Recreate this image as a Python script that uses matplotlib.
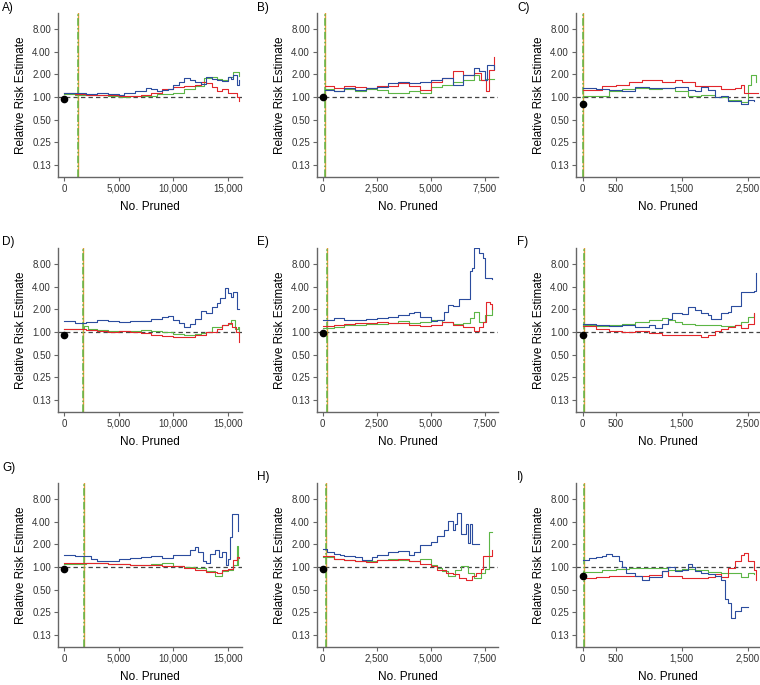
import matplotlib
matplotlib.use("Agg")
import matplotlib.pyplot as plt
from matplotlib.ticker import FixedLocator, FuncFormatter

plt.rcParams['font.family'] = ['Liberation Sans', 'DejaVu Sans']

# ---- data (x = No. pruned, y = relative risk) ----
a_blue_x = [0, 1000, 2000, 3000, 4000, 5000, 5500, 6500, 7500, 8000, 8500, 9000, 9500, 10000,
            10500, 11000, 11500, 12000, 12500, 13000, 13500, 14000, 14500, 15000, 15300, 15500, 15800, 16000]
a_blue_y = [1.12, 1.13, 1.10, 1.12, 1.10, 1.05, 1.12, 1.22, 1.34, 1.28, 1.22, 1.26, 1.30, 1.45,
            1.60, 1.77, 1.70, 1.60, 1.50, 1.84, 1.75, 1.70, 1.62, 1.84, 1.75, 1.98, 1.45, 1.70]
a_red_x = [0, 1000, 2000, 3000, 4000, 5000, 6000, 7000, 8000, 9000, 10000, 11000, 12000, 12500,
           13000, 13500, 14000, 14500, 15000, 15500, 15800, 16000]
a_red_y = [1.12, 1.10, 1.08, 1.07, 1.05, 1.02, 1.04, 1.07, 1.15, 1.28, 1.36, 1.39, 1.45, 1.60,
           1.53, 1.36, 1.19, 1.28, 1.13, 1.13, 1.00, 0.88]
a_green_x = [0, 1000, 2000, 3000, 4000, 5000, 6000, 7000, 8500, 10000, 11000, 12000, 12800, 13500,
             14000, 14500, 15000, 15500, 16000]
a_green_y = [1.10, 1.08, 1.06, 1.05, 1.03, 1.00, 1.02, 1.04, 1.10, 1.15, 1.28, 1.39, 1.79, 1.84,
             1.75, 1.70, 1.85, 2.13, 1.88]

b_blue_x = [100, 500, 1000, 1500, 2000, 2500, 3000, 3500, 4000, 4500, 5000, 5500, 6000, 6500,
            7000, 7200, 7500, 7600, 7900]
b_blue_y = [1.25, 1.19, 1.32, 1.25, 1.32, 1.36, 1.53, 1.60, 1.53, 1.60, 1.70, 1.79, 1.45, 1.98,
            2.43, 2.20, 1.70, 2.69, 2.40]
b_red_x = [100, 500, 1000, 1500, 2000, 2500, 3000, 3500, 4000, 4500, 5000, 5500, 6000, 6500,
           7000, 7300, 7550, 7700, 7900]
b_red_y = [1.40, 1.32, 1.41, 1.36, 1.32, 1.39, 1.41, 1.53, 1.41, 1.25, 1.60, 1.79, 2.20, 1.98,
           2.08, 1.70, 1.19, 2.30, 3.47]
b_green_x = [100, 500, 1000, 1500, 2000, 2500, 3000, 3500, 4000, 4500, 5000, 5500, 6000, 6500,
             7000, 7200, 7500, 7900]
b_green_y = [1.28, 1.19, 1.28, 1.19, 1.28, 1.25, 1.13, 1.15, 1.22, 1.13, 1.36, 1.45, 1.60, 1.70,
             1.98, 1.70, 1.75, 1.75]

c_blue_x = [10, 200, 400, 600, 800, 1000, 1200, 1400, 1600, 1700, 1800, 1900, 2000, 2100, 2200,
            2400, 2500, 2600]
c_blue_y = [1.32, 1.28, 1.25, 1.19, 1.36, 1.32, 1.34, 1.36, 1.25, 1.19, 1.36, 1.25, 1.00, 1.02, 0.88,
            0.82, 0.92, 0.88]
c_red_x = [10, 200, 300, 500, 700, 900, 1000, 1200, 1400, 1500, 1700, 1900, 2100, 2300, 2400,
           2450, 2650]
c_red_y = [1.23, 1.25, 1.39, 1.45, 1.60, 1.67, 1.70, 1.60, 1.67, 1.57, 1.41, 1.39, 1.28, 1.32, 1.45,
           1.15, 1.13]
c_green_x = [10, 200, 400, 600, 800, 1000, 1200, 1400, 1600, 1800, 2000, 2200, 2400, 2500, 2550, 2620]
c_green_y = [1.02, 1.04, 1.19, 1.28, 1.32, 1.28, 1.32, 1.19, 1.02, 1.07, 1.00, 0.92, 0.86, 1.45, 1.96, 1.61]

d_blue_x = [0, 1000, 2000, 3000, 4000, 5000, 6000, 7000, 8000, 9000, 9500, 10000, 10500, 11000,
            11500, 12000, 12500, 13000, 13500, 14000, 14300, 14700, 15000, 15300, 15500, 15800, 16000]
d_blue_y = [1.39, 1.34, 1.36, 1.43, 1.39, 1.36, 1.39, 1.40, 1.48, 1.59, 1.64, 1.43, 1.34, 1.17,
            1.30, 1.51, 1.90, 1.82, 2.17, 2.41, 2.81, 3.84, 3.28, 2.96, 3.46, 2.02, 2.02]
d_red_x = [0, 2000, 3000, 4000, 5000, 6000, 7000, 8000, 9000, 10000, 11000, 12000, 13000, 14000,
           14500, 15000, 15400, 15700, 16000]
d_red_y = [1.11, 1.08, 1.02, 1.00, 1.02, 1.00, 0.98, 0.92, 0.88, 0.86, 0.85, 0.90, 1.00, 1.11,
           1.23, 1.34, 1.17, 1.00, 0.73]
d_green_x = [0, 1500, 1800, 2200, 3000, 4000, 5000, 6000, 7000, 8000, 9000, 10000, 11000, 12000,
             12500, 13000, 13500, 14500, 15000, 15300, 15600, 15900, 16000]
d_green_y = [1.10, 1.11, 1.20, 1.11, 1.05, 1.02, 1.02, 1.02, 1.05, 1.02, 1.00, 0.95, 0.92, 0.94,
             0.98, 1.00, 1.17, 1.23, 1.29, 1.44, 1.11, 1.17, 1.00]

e_blue_x = [0, 500, 1000, 1500, 2000, 2500, 3000, 3500, 4000, 4200, 4500, 5000, 5300, 5600, 5800,
            6000, 6300, 6600, 6800, 6900, 7000, 7200, 7400, 7500, 7800]
e_blue_y = [1.47, 1.54, 1.47, 1.45, 1.49, 1.52, 1.59, 1.68, 1.77, 1.86, 1.59, 1.41, 1.45, 1.86, 2.27,
            2.22, 2.75, 2.80, 6.50, 7.10, 13.0, 11.3, 9.7, 5.2, 5.1]
e_red_x = [0, 500, 1000, 1500, 2000, 2500, 3000, 3500, 4000, 4500, 5000, 5500, 6000, 6500, 7000,
           7200, 7400, 7550, 7750, 7800]
e_red_y = [1.20, 1.23, 1.30, 1.32, 1.34, 1.36, 1.34, 1.32, 1.23, 1.20, 1.26, 1.36, 1.23, 1.17, 1.02,
           1.17, 1.36, 2.54, 2.40, 2.04]
e_green_x = [0, 500, 1000, 1500, 2000, 2500, 3000, 3500, 4000, 4500, 5000, 5500, 6000, 6500, 6800,
             7000, 7200, 7500, 7800]
e_green_y = [1.15, 1.17, 1.23, 1.25, 1.27, 1.29, 1.34, 1.39, 1.34, 1.36, 1.43, 1.36, 1.28, 1.34, 1.54,
             1.86, 1.36, 1.68, 2.17]

f_blue_x = [10, 200, 400, 600, 800, 1000, 1100, 1200, 1300, 1350, 1500, 1600, 1700, 1800, 1900,
            1950, 2100, 2200, 2250, 2400, 2600, 2620]
f_blue_y = [1.29, 1.23, 1.21, 1.23, 1.17, 1.26, 1.14, 1.29, 1.51, 1.77, 1.72, 2.17, 1.95, 1.77, 1.68,
            1.51, 1.77, 1.86, 2.24, 3.46, 3.50, 6.10]
f_red_x = [10, 200, 400, 600, 800, 1000, 1200, 1400, 1600, 1800, 1900, 2000, 2100, 2200, 2300,
           2400, 2500, 2600]
f_red_y = [1.20, 1.11, 1.02, 1.00, 1.02, 0.97, 0.92, 0.90, 0.92, 0.86, 0.90, 1.02, 1.09, 1.17, 1.23,
           1.14, 1.29, 1.82]
f_green_x = [10, 200, 400, 600, 800, 1000, 1200, 1300, 1400, 1500, 1700, 1900, 2100, 2300, 2400,
             2500, 2600]
f_green_y = [1.25, 1.21, 1.23, 1.29, 1.36, 1.44, 1.54, 1.44, 1.36, 1.29, 1.26, 1.23, 1.21, 1.23, 1.36,
             1.59, 1.72]

g_blue_x = [0, 1000, 2000, 2500, 3000, 4000, 5000, 6000, 7000, 8000, 9000, 10000, 11000, 11500,
            12000, 12300, 12700, 13000, 13400, 13800, 14200, 14500, 14800, 15000, 15200, 15400, 15800, 15900]
g_blue_y = [1.43, 1.42, 1.40, 1.28, 1.21, 1.21, 1.28, 1.32, 1.36, 1.39, 1.34, 1.46, 1.46, 1.70,
            1.84, 1.60, 1.19, 1.13, 1.50, 1.70, 1.38, 1.60, 1.05, 1.29, 2.50, 5.05, 5.05, 2.98]
g_red_x = [0, 2000, 4000, 6000, 8000, 9000, 10000, 11000, 12000, 13000, 14000, 14500, 15000, 15500,
           15800, 16000]
g_red_y = [1.13, 1.13, 1.10, 1.07, 1.08, 1.04, 1.02, 0.97, 0.90, 0.86, 0.83, 0.90, 0.94, 1.25,
           1.36, 1.32]
g_green_x = [0, 2000, 4000, 6000, 8000, 9000, 10000, 11000, 12000, 13000, 13800, 14500, 15000, 15500,
             15800, 15900]
g_green_y = [1.10, 1.13, 1.09, 1.07, 1.10, 1.13, 1.02, 0.99, 0.97, 0.88, 0.77, 0.88, 0.90, 1.07,
             1.88, 1.07]

h_blue_x = [0, 200, 500, 800, 1000, 1500, 1800, 2000, 2300, 2500, 3000, 3500, 4000, 4200, 4500,
            5000, 5300, 5600, 5800, 6000, 6100, 6200, 6400, 6600, 6700, 6800, 6900, 7200]
h_blue_y = [1.73, 1.61, 1.50, 1.46, 1.39, 1.36, 1.23, 1.26, 1.36, 1.46, 1.61, 1.66, 1.46, 1.61, 1.98,
            2.19, 2.56, 3.13, 4.05, 3.13, 3.70, 5.22, 2.80, 3.80, 2.08, 3.80, 2.04, 2.04]
h_red_x = [0, 500, 1000, 1500, 2000, 2500, 3000, 3500, 4000, 4500, 5000, 5300, 5700, 6000, 6300,
           6600, 6900, 7100, 7300, 7400, 7700, 7800]
h_red_y = [1.39, 1.28, 1.23, 1.21, 1.18, 1.23, 1.26, 1.28, 1.21, 1.10, 1.02, 0.92, 0.83, 0.80, 0.71,
           0.68, 0.77, 0.83, 0.95, 1.39, 1.39, 1.70]
h_green_x = [0, 500, 1000, 1500, 2000, 2500, 3000, 3500, 4000, 4500, 5000, 5300, 5500, 5800, 6100,
             6400, 6700, 7000, 7300, 7500, 7700, 7800]
h_green_y = [1.36, 1.28, 1.23, 1.20, 1.21, 1.26, 1.28, 1.26, 1.20, 1.28, 1.07, 0.97, 0.88, 0.75, 0.92,
             1.02, 0.83, 0.71, 0.83, 0.95, 2.97, 2.97]

i_blue_x = [10, 100, 200, 300, 350, 450, 550, 600, 650, 800, 900, 1000, 1200, 1300, 1400, 1500,
            1600, 1650, 1700, 1800, 1900, 2000, 2100, 2150, 2200, 2250, 2300, 2400, 2500]
i_blue_y = [1.25, 1.32, 1.36, 1.39, 1.50, 1.41, 1.19, 1.00, 0.83, 0.75, 0.67, 0.74, 0.88, 1.00, 0.88,
            0.92, 1.11, 1.00, 0.88, 0.83, 0.82, 0.75, 0.68, 0.37, 0.33, 0.21, 0.26, 0.29, 0.29]
i_red_x = [10, 200, 400, 600, 800, 1000, 1200, 1300, 1500, 1700, 1900, 2000, 2100, 2200, 2300,
           2400, 2450, 2500, 2600, 2620]
i_red_y = [0.71, 0.74, 0.76, 0.77, 0.76, 0.79, 0.88, 0.77, 0.71, 0.72, 0.74, 0.81, 0.74, 0.97, 1.19,
           1.46, 1.53, 1.19, 0.92, 0.68]
i_green_x = [10, 300, 500, 700, 1000, 1300, 1500, 1700, 1900, 2100, 2200, 2400, 2500, 2600]
i_green_y = [0.85, 0.90, 0.94, 0.97, 0.97, 0.92, 0.94, 0.90, 0.85, 0.83, 0.83, 0.74, 0.83, 0.82]

panel_labels = ['A)', 'B)', 'C)', 'D)', 'E)', 'F)', 'G)', 'H)', 'I)']
cutoffs = [1250, 100, 10, 1750, 180, 20, 1850, 150, 20]
start_rr = [0.93, 1.00, 0.80, 0.92, 0.96, 0.90, 0.93, 0.93, 0.77]
xticks_big = [0, 5000, 10000, 15000]
xticks_mid = [0, 2500, 5000, 7500]
xticks_small = [0, 500, 1500, 2500]
yticks = [0.125, 0.25, 0.5, 1, 2, 4, 8]
ytick_labels = ['0.13', '0.25', '0.50', '1.00', '2.00', '4.00', '8.00']

series = [
    (a_blue_x, a_blue_y, a_red_x, a_red_y, a_green_x, a_green_y),
    (b_blue_x, b_blue_y, b_red_x, b_red_y, b_green_x, b_green_y),
    (c_blue_x, c_blue_y, c_red_x, c_red_y, c_green_x, c_green_y),
    (d_blue_x, d_blue_y, d_red_x, d_red_y, d_green_x, d_green_y),
    (e_blue_x, e_blue_y, e_red_x, e_red_y, e_green_x, e_green_y),
    (f_blue_x, f_blue_y, f_red_x, f_red_y, f_green_x, f_green_y),
    (g_blue_x, g_blue_y, g_red_x, g_red_y, g_green_x, g_green_y),
    (h_blue_x, h_blue_y, h_red_x, h_red_y, h_green_x, h_green_y),
    (i_blue_x, i_blue_y, i_red_x, i_red_y, i_green_x, i_green_y),
]

BLUE = '#2b4c9e'
RED = '#e2262b'
GREEN = '#5cb646'
W, H = 760, 685

fig = plt.figure(figsize=(7.6, 6.85), dpi=100)

# column: (left px, right px, xlim, xticks); row: (top px, bottom px)
cols = [(58, 242, (-549, 16285), xticks_big),
        (317, 498, (-263, 8100), xticks_mid),
        (576, 760, (-100, 2686), xticks_small)]
rows = [(13, 177), (248, 412), (483, 647)]
label_pos = [(2, 8), (257, 8), (517, 8), (2, 242), (257, 242), (517, 242),
             (2, 468), (257, 477), (517, 477)]

for k in range(9):
    r, c = divmod(k, 3)
    left, right, xlim, xt = cols[c]
    top, bot = rows[r]
    ax = fig.add_axes([left / W, (H - bot) / H, (right - left) / W, (bot - top) / H])
    bx, by, rx, ry, gx, gy = series[k]

    ax.axhline(1.0, color='#444444', lw=0.9, dashes=(3.5, 2.5), zorder=1)
    ax.axvline(cutoffs[k], color='#e39b3a', lw=1.0, zorder=2)
    ax.axvline(cutoffs[k], color=GREEN, lw=1.1, dashes=(5, 1.5, 1, 1.5), zorder=2)
    ax.plot(gx, gy, drawstyle='steps-post', color=GREEN, lw=0.8, zorder=3)
    ax.plot(rx, ry, drawstyle='steps-post', color=RED, lw=0.8, zorder=4)
    ax.plot(bx, by, drawstyle='steps-post', color=BLUE, lw=0.8, zorder=5)
    ax.plot([0], [start_rr[k]], 'o', color='black', ms=4.5, zorder=6, clip_on=False)

    ax.set_yscale('log', base=2)
    ax.set_ylim(0.086, 13.2)
    ax.set_xlim(*xlim)
    ax.yaxis.set_major_locator(FixedLocator(yticks))
    ax.yaxis.set_minor_locator(FixedLocator([]))
    ax.set_yticklabels(ytick_labels)
    ax.set_xticks(xt)
    ax.xaxis.set_major_formatter(FuncFormatter(lambda v, p: f'{int(v):,}'))

    for s in ['top', 'right']:
        ax.spines[s].set_visible(False)
    for s in ['left', 'bottom']:
        ax.spines[s].set_color('#666666')
        ax.spines[s].set_linewidth(1.0)
    ax.tick_params(axis='both', colors='#666666', labelcolor='#333333', labelsize=7,
                   length=3, width=0.8, pad=2)
    ax.set_xlabel('No. Pruned', fontsize=8.5, labelpad=5)
    ax.set_ylabel('Relative Risk Estimate', fontsize=8.5, labelpad=4)

    lx, ly = label_pos[k]
    fig.text(lx / W, 1 - ly / H, panel_labels[k], fontsize=8.5, va='center', ha='left')

fig.savefig('out.png', dpi=100)
